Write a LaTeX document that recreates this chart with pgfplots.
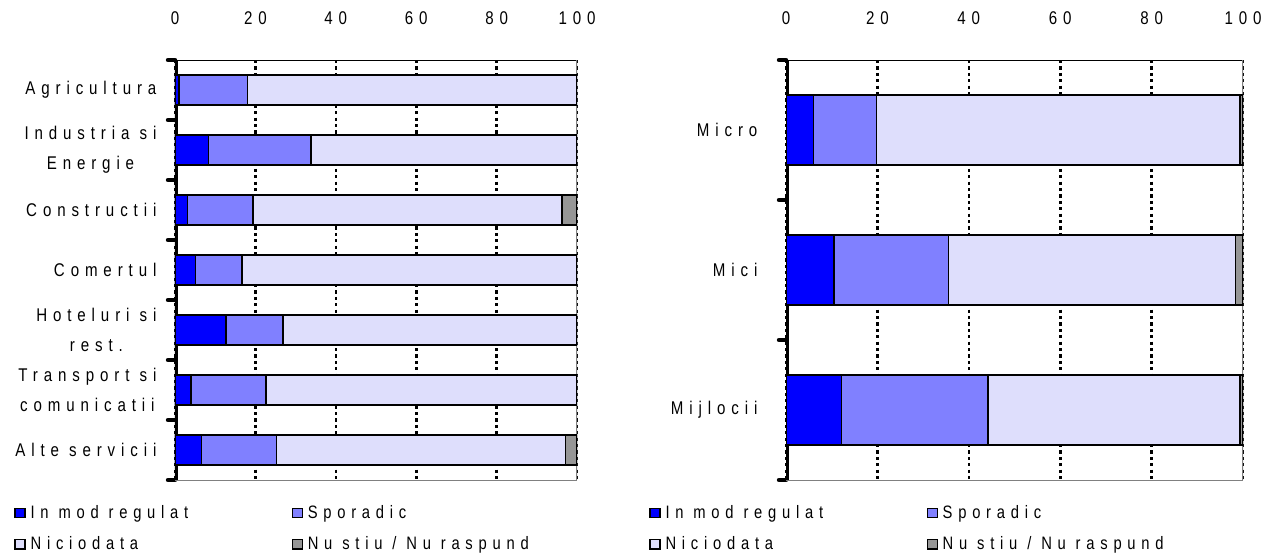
\documentclass[border=0pt]{standalone}
\usepackage{fontspec}
\setmainfont{Liberation Sans}[FakeStretch=0.82, LetterSpace=32]
\usepackage{pgfplots}
\pgfplotsset{compat=1.18}
\definecolor{creg}{RGB}{0,0,255}
\definecolor{cspo}{RGB}{128,128,255}
\definecolor{cnic}{RGB}{222,222,252}
\definecolor{cns}{RGB}{150,150,150}
\pgfplotsset{
  mystyle/.style={
    scale only axis, height=210pt, xbar stacked, bar width=0.5,
    xmin=0, xmax=100, y dir=reverse,
    axis line style={draw=none},
    xtick={0,20,...,100}, xticklabel pos=upper, major x tick style={draw=none},
    xmajorgrids, x grid style={black, line width=1.3pt, dash pattern=on 1.6pt off 1.6pt},
    ytick pos=left, major y tick style={draw=none},
    minor y tick style={black, line width=2.2pt, line cap=round},
    minor tick length=3.5pt, tick align=outside,
    xticklabel style={yshift=10pt},
    /pgf/number format/assume math mode=true,
    tick label style={font=\fontsize{9.2}{15}\selectfont},
    yticklabel style={align=center, xshift=-1.5pt},
    every axis plot/.append style={draw=black, line width=0.7pt},
    legend columns=2, legend cell align=left,
    legend style={draw=none, fill=none, inner sep=0pt, anchor=north west,
      font=\fontsize{9}{10}\selectfont, row sep=6pt,
      nodes={inner sep=0.8pt, inner xsep=2.5pt}},
    legend image code/.code={\draw[##1, line width=0.6pt] (0pt,-2.3pt) rectangle (5pt,2.3pt);},
  }
}
\begin{document}
\begin{tikzpicture}
\useasboundingbox (0,0) rectangle (635pt,278.5pt);
% left chart
\begin{axis}[mystyle, at={(87.5pt,38.5pt)}, anchor=south west, width=201pt,
  ymin=-0.5, ymax=6.5, ytick={0,...,6}, minor ytick={-0.5,0.5,...,6.5},
  yticklabels={Agricultura,{Industria si\\Energie},Constructii,Comertul,{Hoteluri si\\rest.},{Transport si\\comunicatii},Alte servicii},
  legend style={at={(-0.4005,-0.055)}}]
\addplot[fill=creg] coordinates {(1.0,0) (8.3,1) (3.1,2) (5.1,3) (12.7,4) (4.0,5) (6.6,6)};
\addplot[fill=cspo] coordinates {(17.0,0) (25.5,1) (16.3,2) (11.6,3) (14.2,4) (18.6,5) (18.6,6)};
\addplot[fill=cnic] coordinates {(82.0,0) (66.2,1) (76.9,2) (83.3,3) (73.1,4) (77.4,5) (72.0,6)};
\addplot[fill=cns] coordinates {(0,0) (0,1) (3.7,2) (0,3) (0,4) (0,5) (2.8,6)};
\addlegendentry{\makebox[128pt][l]{In mod regulat}}
\addlegendentry{Sporadic}
\addlegendentry{\makebox[128pt][l]{Niciodata}}
\addlegendentry{Nu stiu / Nu raspund}
\draw[gray, line width=0.8pt] (axis cs:100,-0.5) -- (axis cs:100,6.5);
\draw[black, line width=0.5pt] (axis cs:0,-0.5) -- (axis cs:100,-0.5);
\draw[gray, line width=0.5pt] (axis cs:0,6.5) -- (axis cs:100,6.5);
\draw[black, line width=3pt] (axis cs:0,-0.55) -- (axis cs:0,6.55);
\end{axis}
% right chart
\begin{axis}[mystyle, at={(393pt,38.5pt)}, anchor=south west, width=228.5pt,
  ymin=-0.5, ymax=2.5, ytick={0,1,2}, minor ytick={-0.5,0.5,1.5,2.5},
  yticklabels={Micro,Mici,Mijlocii},
  yticklabel style={xshift=-5pt},
  legend style={at={(-0.30,-0.055)}}]
\addplot[fill=creg] coordinates {(6.0,0) (10.5,1) (12.2,2)};
\addplot[fill=cspo] coordinates {(13.8,0) (25.0,1) (32.0,2)};
\addplot[fill=cnic] coordinates {(79.5,0) (62.8,1) (55.1,2)};
\addplot[fill=cns] coordinates {(0.7,0) (1.7,1) (0.7,2)};
\addlegendentry{\makebox[128pt][l]{In mod regulat}}
\addlegendentry{Sporadic}
\addlegendentry{\makebox[128pt][l]{Niciodata}}
\addlegendentry{Nu stiu / Nu raspund}
\draw[gray, line width=0.8pt] (axis cs:100,-0.5) -- (axis cs:100,2.5);
\draw[black, line width=0.5pt] (axis cs:0,-0.5) -- (axis cs:100,-0.5);
\draw[gray, line width=0.5pt] (axis cs:0,2.5) -- (axis cs:100,2.5);
\draw[black, line width=3pt] (axis cs:0,-0.52) -- (axis cs:0,2.52);
\end{axis}
\end{tikzpicture}
\end{document}
